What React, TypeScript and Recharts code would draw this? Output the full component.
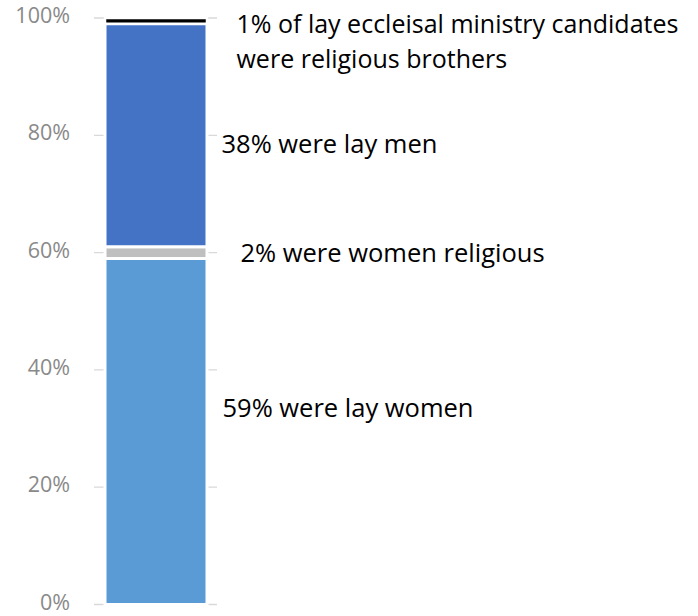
import React from 'react';
import { BarChart, Bar, XAxis, YAxis, CartesianGrid, LabelList } from 'recharts';

const categories = ['Candidates'];
const layWomen = [59];
const womenReligious = [2];
const layMen = [38];
const religiousBrothers = [1];
const yTicks = [0, 20, 40, 60, 80, 100];

const noteLayWomen = ['59% were lay women'];
const noteWomenReligious = ['2% were women religious'];
const noteLayMen = ['38% were lay men'];
const noteBrothers = ['1% of lay eccleisal ministry candidates', 'were religious brothers'];

const data = categories.map((name, i) => ({
  name,
  layWomen: layWomen[i],
  womenReligious: womenReligious[i],
  layMen: layMen[i],
  religiousBrothers: religiousBrothers[i],
}));

const FONT = '"Open Sans", sans-serif';

// draws the side note next to a segment
function makeNote(lines: string[], dx: number, dy: number, size = 25.5) {
  return (props: any) => {
    const vb = props.viewBox && props.viewBox.width !== undefined ? props.viewBox : props;
    const x = Number(vb.x) + Number(vb.width) + dx;
    const y = Number(vb.y) + Number(vb.height) / 2 + dy;
    return (
      <text x={x} y={y} fill="#000" fontSize={size} fontFamily={FONT}>
        {lines.map((l, i) => (
          <tspan key={i} x={x} dy={i === 0 ? 0 : 35}>{l}</tspan>
        ))}
      </text>
    );
  };
}

function PctTick(props: any) {
  const { x, y, payload } = props;
  return (
    <text x={x} y={y} dy={5} textAnchor="end" fill="#898989" fontSize={21.5} fontFamily={FONT}>
      {`${payload.value}%`}
    </text>
  );
}

export default function App() {
  return (
    <div style={{ position: 'absolute', left: 0, top: 0, background: '#fff' }}>
      <BarChart
        width={698}
        height={616}
        data={data}
        margin={{ top: 18, right: 481, bottom: 11.5, left: 14 }}
      >
        <CartesianGrid vertical={false} stroke="#d9d9d9" strokeWidth={1.3} />
        <XAxis dataKey="name" hide />
        <YAxis
          width={80}
          domain={[0, 100]}
          ticks={yTicks}
          interval={0}
          axisLine={false}
          tickLine={false}
          tickMargin={18}
          tick={<PctTick />}
        />
        <Bar dataKey="layWomen" stackId="a" fill="#5B9BD5" stroke="#fff" strokeWidth={3} barSize={102} isAnimationActive={false}>
          <LabelList dataKey="layWomen" content={makeNote(noteLayWomen, 15.5, -14)} />
        </Bar>
        <Bar dataKey="womenReligious" stackId="a" fill="#BFBFBF" stroke="#fff" strokeWidth={3} barSize={102} isAnimationActive={false}>
          <LabelList dataKey="womenReligious" content={makeNote(noteWomenReligious, 33.5, 9)} />
        </Bar>
        <Bar dataKey="layMen" stackId="a" fill="#4472C4" stroke="#fff" strokeWidth={3} barSize={102} isAnimationActive={false}>
          <LabelList dataKey="layMen" content={makeNote(noteLayMen, 14.5, 18)} />
        </Bar>
        <Bar dataKey="religiousBrothers" stackId="a" fill="#000" stroke="#fff" strokeWidth={2.5} barSize={102} isAnimationActive={false}>
          <LabelList dataKey="religiousBrothers" content={makeNote(noteBrothers, 29.5, 12, 25)} />
        </Bar>
      </BarChart>
    </div>
  );
}
